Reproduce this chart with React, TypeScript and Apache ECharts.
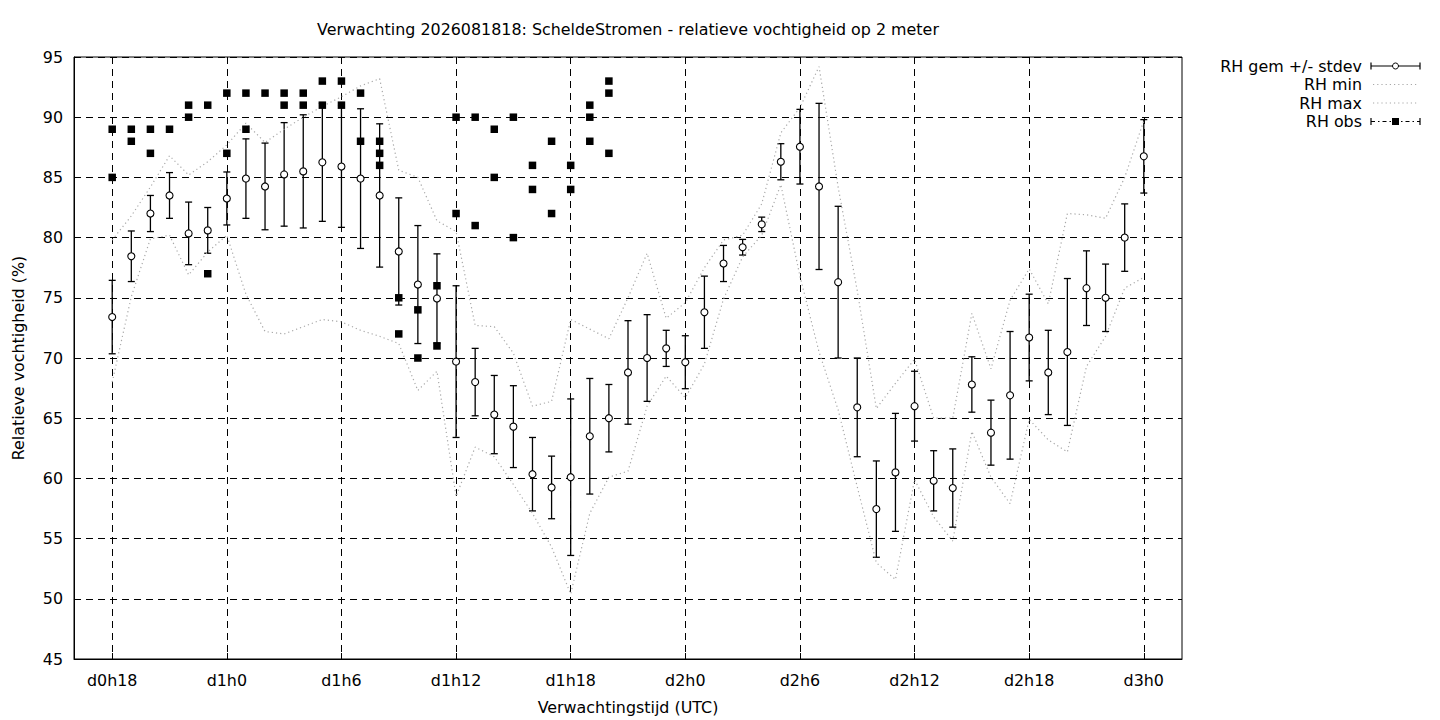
import React, { useEffect, useRef } from "react";
import * as echarts from "echarts";

// Forecast hours (hours since d0h0)
const hours: number[] = [
  18, 19, 20, 21, 22, 23, 24, 25, 26, 27, 28, 29, 30, 31, 32, 33, 34, 35, 36,
  37, 38, 39, 40, 41, 42, 43, 44, 45, 46, 47, 48, 49, 50, 51, 52, 53, 54, 55,
  56, 57, 58, 59, 60, 61, 62, 63, 64, 65, 66, 67, 68, 69, 70, 71, 72,
];

// RH gemiddelde (mean)
const rhMean: number[] = [
  73.4, 78.45, 82.0, 83.5, 80.35, 80.6, 83.25, 84.9, 84.25, 85.25, 85.5, 86.25,
  85.9, 84.9, 83.5, 78.85, 76.1, 74.95, 69.7, 68.0, 65.3, 64.3, 60.35, 59.25,
  60.1, 63.5, 65.0, 68.8, 70.0, 70.8, 69.65, 73.8, 77.85, 79.2, 81.1, 86.3,
  87.55, 84.25, 76.3, 65.9, 57.45, 60.5, 66.0, 59.8, 59.2, 67.8, 63.8, 66.9,
  71.7, 68.8, 70.5, 75.8, 75.0, 80.0, 86.75,
];

// RH standaarddeviatie
const rhStdev: number[] = [
  3.05, 2.1, 1.5, 1.9, 2.6, 1.9, 2.2, 3.3, 3.6, 4.3, 4.7, 4.9, 5.05, 5.8, 5.95,
  4.45, 4.9, 3.7, 6.3, 2.8, 3.25, 3.4, 3.05, 2.6, 6.5, 4.8, 2.8, 4.3, 3.6, 1.5,
  2.2, 3.0, 1.5, 0.65, 0.6, 1.5, 3.1, 6.9, 6.3, 4.1, 4.0, 4.9, 2.9, 2.5, 3.25,
  2.3, 2.7, 5.3, 3.6, 3.5, 6.1, 3.1, 2.8, 2.8, 3.05,
];

// RH min
const rhMin: number[] = [
  68.0, 75.1, 79.9, 80.2, 76.9, 78.8, 80.2, 75.3, 72.2, 72.0, 72.6, 73.2, 73.0,
  72.3, 71.8, 71.2, 67.3, 68.9, 58.5, 62.6, 61.8, 59.5, 57.1, 54.3, 50.4, 57.1,
  60.1, 60.6, 66.0, 68.5, 66.7, 69.5, 74.9, 78.4, 80.2, 84.4, 76.8, 70.5, 65.7,
  59.3, 53.0, 51.6, 59.9, 56.8, 54.8, 63.9, 60.1, 57.9, 64.9, 63.2, 62.2, 69.3,
  71.8, 75.8, 76.7,
];

// RH max
const rhMax: number[] = [
  79.8, 81.8, 84.2, 86.8, 85.2, 86.3, 87.7, 89.5, 87.9, 89.0, 90.0, 90.9, 91.7,
  92.6, 93.2, 85.6, 85.0, 81.4, 80.5, 72.7, 72.6, 70.4, 66.0, 66.4, 73.2, 72.4,
  71.6, 75.0, 78.7, 73.3, 74.6, 77.5, 79.8, 80.2, 82.8, 88.7, 90.8, 94.2, 84.2,
  75.6, 65.8, 67.9, 69.9, 65.0, 65.0, 73.7, 69.1, 74.8, 77.4, 74.5, 82.0, 81.9,
  81.6, 85.0, 89.7,
];

// RH observaties (hour, value)
const obsHours: number[] = [
  18, 18, 19, 19, 20, 20, 21, 22, 22, 23, 23, 24, 24, 25, 25, 26, 27, 27, 28,
  28, 29, 29, 30, 30, 31, 31, 32, 32, 32, 33, 33, 34, 34, 35, 35, 36, 36, 37,
  37, 38, 38, 39, 39, 40, 40, 41, 41, 42, 42, 43, 43, 43, 44, 44, 44,
];
const obsValues: number[] = [
  89, 85, 89, 88, 89, 87, 89, 91, 90, 91, 77, 92, 87, 92, 89, 92, 92, 91, 92,
  91, 93, 91, 93, 91, 92, 88, 88, 87, 86, 75, 72, 74, 70, 76, 71, 90, 82, 90,
  81, 89, 85, 90, 80, 86, 84, 88, 82, 86, 84, 91, 90, 88, 93, 92, 87,
];

const xTicks: number[] = [18, 24, 30, 36, 42, 48, 54, 60, 66, 72];

const titleText =
  "Verwachting 2026081818: ScheldeStromen - relatieve vochtigheid op 2 meter";
const legendNames: string[] = ["RH gem +/- stdev", "RH min", "RH max", "RH obs"];

const FONT = "DejaVu Sans";
const FS = 15.9;

function fmtHour(h: number): string {
  const d = Math.floor(h / 24);
  return "d" + d + "h" + (h % 24);
}

export default function App() {
  const ref = useRef<HTMLDivElement>(null);

  useEffect(() => {
    if (!ref.current) return;
    const chart = echarts.init(ref.current, undefined, { renderer: "svg" });

    const gridL = 74, gridT = 57, gridW = 1108, gridH = 602;

    const errData = hours.map((h, i) => [h, rhMean[i], rhStdev[i]]);
    const meanData = hours.map((h, i) => [h, rhMean[i]]);
    const minData = hours.map((h, i) => [h, rhMin[i]]);
    const maxData = hours.map((h, i) => [h, rhMax[i]]);
    const obsData = obsHours.map((h, i) => [h, obsValues[i]]);

    const dotted = { color: "#a8a8a8", width: 1.2, type: [1.2, 3] as any };
    const gridLine = { color: "#000", width: 1, type: [7, 5] as any };

    const lx1 = 1371, lx2 = 1420, lxm = 1395.5, ltx = 1362;
    const ly = [66, 84.5, 103, 121.5];
    const textStyle = (t: string, y: number) => ({
      type: "text",
      style: {
        text: t,
        x: ltx,
        y,
        textAlign: "right",
        textVerticalAlign: "middle",
        align: "right",
        verticalAlign: "middle",
        fontFamily: FONT,
        fontSize: FS,
        fill: "#000",
      },
    });
    const ln = (x1: number, y1: number, x2: number, y2: number, style: any) => ({
      type: "line",
      shape: { x1, y1, x2, y2 },
      style: { stroke: "#000", lineWidth: 1.2, ...style },
    });

    const graphic: any[] = [
      textStyle(legendNames[0], ly[0]),
      textStyle(legendNames[1], ly[1]),
      textStyle(legendNames[2], ly[2]),
      textStyle(legendNames[3], ly[3]),
      ln(lx1, ly[0], lx2, ly[0], {}),
      ln(lx1, ly[0] - 3.5, lx1, ly[0] + 3.5, {}),
      ln(lx2, ly[0] - 3.5, lx2, ly[0] + 3.5, {}),
      {
        type: "circle",
        shape: { cx: lxm, cy: ly[0], r: 3 },
        style: { fill: "#fff", stroke: "#000", lineWidth: 1 },
      },
      ln(lx1 + 2, ly[1], lx2 - 2, ly[1], { stroke: "#a8a8a8", lineDash: [1.2, 3] }),
      ln(lx1 + 2, ly[2], lx2 - 2, ly[2], { stroke: "#a8a8a8", lineDash: [1.2, 3] }),
      ln(lx1, ly[3], lx2, ly[3], { lineDash: [4, 3, 1.5, 3] }),
      ln(lx1, ly[3] - 3.5, lx1, ly[3] + 3.5, {}),
      ln(lx2, ly[3] - 3.5, lx2, ly[3] + 3.5, {}),
      {
        type: "rect",
        shape: { x: lxm - 3.5, y: ly[3] - 3.5, width: 7, height: 7 },
        style: { fill: "#000" },
      },
    ];

    const option: any = {
      animation: false,
      backgroundColor: "#fff",
      textStyle: { fontFamily: FONT },
      title: {
        text: titleText,
        left: gridL + gridW / 2,
        top: 21,
        textAlign: "center",
        padding: 0,
        textStyle: {
          fontFamily: FONT,
          fontSize: FS,
          fontWeight: "normal",
          color: "#000",
        },
      },
      grid: {
        left: gridL,
        top: gridT,
        width: gridW,
        height: gridH,
        show: true,
        borderColor: "#000",
        borderWidth: 1,
        backgroundColor: "transparent",
        containLabel: false,
      },
      xAxis: {
        type: "value",
        min: 16,
        max: 74,
        name: "Verwachtingstijd (UTC)",
        nameLocation: "middle",
        nameGap: 40,
        nameTextStyle: { fontFamily: FONT, fontSize: FS, color: "#000" },
        axisLine: { show: true, onZero: false, lineStyle: { color: "#000", width: 1 } },
        axisTick: {
          show: true,
          inside: true,
          length: 6,
          customValues: xTicks,
          lineStyle: { color: "#000" },
        },
        axisLabel: {
          customValues: xTicks,
          margin: 13,
          fontFamily: FONT,
          fontSize: FS,
          color: "#000",
          formatter: (v: number) => fmtHour(v),
        },
        splitLine: { show: true, lineStyle: gridLine },
      },
      yAxis: {
        type: "value",
        min: 45,
        max: 95,
        interval: 5,
        name: "Relatieve vochtigheid (%)",
        nameLocation: "middle",
        nameGap: 48,
        nameTextStyle: { fontFamily: FONT, fontSize: FS, color: "#000" },
        axisLine: { show: true, lineStyle: { color: "#000", width: 1 } },
        axisTick: { show: true, inside: true, length: 6, lineStyle: { color: "#000" } },
        axisLabel: {
          margin: 11,
          fontFamily: FONT,
          fontSize: FS,
          color: "#000",
          showMinLabel: true,
          showMaxLabel: true,
        },
        splitLine: { show: true, lineStyle: gridLine },
      },
      graphic,
      series: [
        {
          name: "RH gem +/- stdev bars",
          type: "custom",
          data: errData,
          encode: { x: 0, y: 1 },
          z: 2,
          silent: true,
          renderItem: (params: any, api: any) => {
            const x = api.value(0);
            const m = api.value(1);
            const sd = api.value(2);
            const top = api.coord([x, m + sd]);
            const bot = api.coord([x, m - sd]);
            const hw = 3.5;
            const st = { stroke: "#000", lineWidth: 1.3 };
            return {
              type: "group",
              children: [
                { type: "line", shape: { x1: top[0], y1: top[1], x2: bot[0], y2: bot[1] }, style: st },
                { type: "line", shape: { x1: top[0] - hw, y1: top[1], x2: top[0] + hw, y2: top[1] }, style: st },
                { type: "line", shape: { x1: bot[0] - hw, y1: bot[1], x2: bot[0] + hw, y2: bot[1] }, style: st },
              ],
            };
          },
        },
        {
          name: "RH min",
          type: "line",
          data: minData,
          showSymbol: false,
          symbol: "none",
          z: 3,
          lineStyle: dotted,
          silent: true,
        },
        {
          name: "RH max",
          type: "line",
          data: maxData,
          showSymbol: false,
          symbol: "none",
          z: 3,
          lineStyle: dotted,
          silent: true,
        },
        {
          name: "RH gem +/- stdev",
          type: "scatter",
          data: meanData,
          symbol: "circle",
          symbolSize: 7,
          z: 4,
          itemStyle: { color: "#fff", borderColor: "#000", borderWidth: 1.1, opacity: 1 },
          silent: true,
        },
        {
          name: "RH obs",
          type: "scatter",
          data: obsData,
          symbol: "rect",
          symbolSize: 7.5,
          z: 5,
          itemStyle: { color: "#000", opacity: 1 },
          silent: true,
        },
      ],
    };

    chart.setOption(option);
    return () => {
      chart.dispose();
    };
  }, []);

  return (
    <div
      ref={ref}
      style={{
        position: "fixed",
        left: 0,
        top: 0,
        width: 1440,
        height: 720,
        background: "#fff",
      }}
    />
  );
}
